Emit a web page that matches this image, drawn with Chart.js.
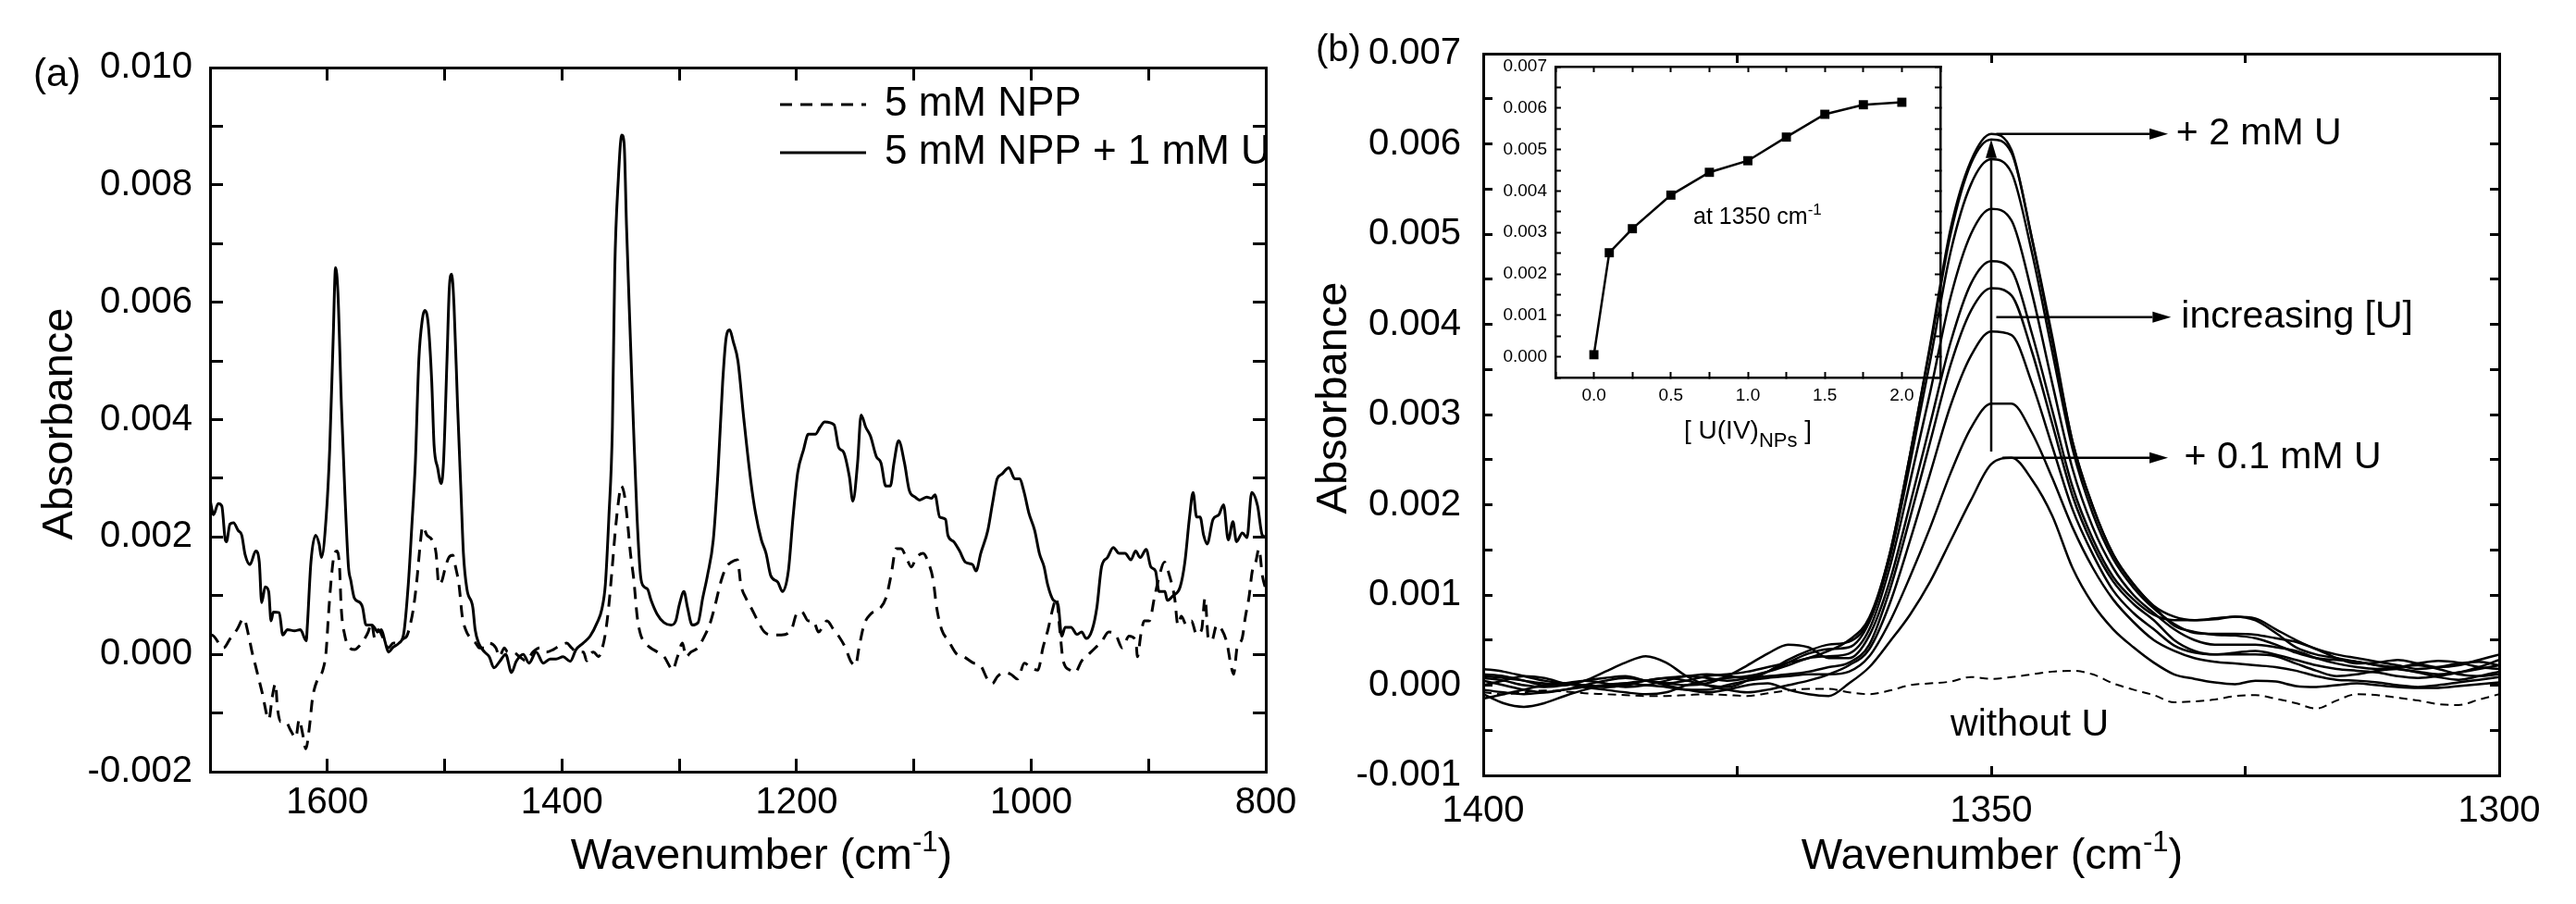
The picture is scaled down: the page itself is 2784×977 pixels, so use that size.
<!DOCTYPE html>
<html><head><meta charset="utf-8">
<script src="https://cdn.jsdelivr.net/npm/chart.js@4.4.1/dist/chart.umd.min.js"></script>
<style>
html,body{margin:0;padding:0;background:#fff;}
body{width:2784px;height:977px;position:relative;overflow:hidden;}
canvas{position:absolute;}
#ca{left:0;top:0;width:1440px;height:977px;}
#cb{left:1400px;top:0;width:1384px;height:977px;}
#ci{left:1610px;top:40px;width:520px;height:460px;}
</style></head><body>
<canvas id="ca" width="1440" height="977"></canvas>
<canvas id="cb" width="1384" height="977"></canvas>
<canvas id="ci" width="520" height="460"></canvas>
<script>
// ================= DATA: panel (a) =================
const seriesA = ['5 mM NPP', '5 mM NPP + 1 mM U'];
const wnNPP = [
1700,1698.6,1688.5,1682.8,1677.1,1671.3,1667,1664.2,1661.3,1658.4,
1655.6,1649.8,1647,1644.1,1642.7,1639.8,1635.5,1631.2,1626.9,1624,
1621.2,1618.3,1615.4,1612.5,1608.2,1603.9,1601.1,1599.1,1596.8,1593.9,
1591.6,1589.6,1588.2,1585.3,1581,1576.7,1572.4,1568.1,1565.2,1562.4,
1559.5,1556.6,1552.3,1548,1543.7,1539.4,1535.1,1532.3,1529.4,1526.5,
1523.7,1520.8,1518.8,1515.1,1510.8,1507.3,1505,1502.2,1499.3,1496.4,
1493,1490.7,1487.8,1485,1482.1,1477.8,1473.5,1470.6,1466.3,1462,
1456.3,1453.4,1449.1,1446.3,1441.9,1436.2,1430.5,1424.7,1419,1413.3,
1407.5,1401.8,1396.1,1391.8,1387.5,1381.7,1378.9,1376,1373.1,1368.8,
1366,1363.1,1360.2,1357.4,1354.5,1351.6,1349.6,1346.8,1344.5,1341.6,
1338.7,1335.9,1333,1328.7,1324.4,1318.7,1312.9,1308.6,1305.8,1301.5,
1297.2,1294.3,1290,1284.3,1278.5,1274.2,1269.9,1264.2,1259.9,1255.6,
1250.4,1247.5,1243.2,1238.9,1233.1,1227.4,1221.6,1213,1204.4,1200,
1195.7,1190,1185.7,1181.3,1174.1,1168.4,1164.1,1158.3,1154,1149.7,
1146.8,1142.5,1136.7,1129.5,1123.8,1119.5,1115.1,1110.8,1106.5,1102.2,
1097.9,1092.1,1087.8,1083.5,1080.6,1076.3,1070.5,1063.3,1057.6,1049,
1043.2,1037.4,1033.1,1028.8,1023.1,1017.3,1011.6,1005.8,1000.1,994.3,
990,985.7,981.3,978.5,975.6,972.7,967,962.6,956.9,951.1,
945.4,939.6,933.9,928.1,922.3,916.6,910.8,909.4,906.5,903.6,
899.3,895,890.7,886.4,882.1,877.7,874.9,872,867.7,863.4,
859,854.7,851.8,849,846.1,841.8,837.5,833.1,829.7,827.4,
824.5,820.2,817.3,814.4,811.5,808.6,805.8,802.9,800];
const absNPP = [
0.00031,0.00033,0.00011,0.00027,0.00042,0.00061,0.00031,0.00004,-0.00019,-0.00042,
-0.00065,-0.00111,-0.00073,-0.00050,-0.00088,-0.00115,-0.00115,-0.00130,-0.00142,-0.00111,
-0.00134,-0.00161,-0.00126,-0.00073,-0.00042,-0.00027,0.00004,0.00065,0.00126,0.00172,
0.00176,0.00149,0.00080,0.00034,0.00011,0.00008,0.00015,0.00027,0.00038,0.00054,
0.00027,0.00042,0.00027,0.00011,0.00019,0.00019,0.00027,0.00031,0.00050,0.00080,
0.00126,0.00188,0.00218,0.00203,0.00195,0.00172,0.00119,0.00126,0.00149,0.00165,
0.00169,0.00149,0.00119,0.00065,0.00042,0.00027,0.00019,0.00011,0.00011,0.00019,
0.00011,-0.00004,0.00011,0.00004,0.00004,-0.00004,-0.00011,0.00004,0.00011,0.00004,
0.00008,0.00015,0.00019,0.00011,0.00004,0.00004,-0.00011,0.00000,0.00004,-0.00004,
0.00008,0.00034,0.00080,0.00142,0.00211,0.00264,0.00287,0.00272,0.00234,0.00172,
0.00126,0.00065,0.00034,0.00019,0.00011,0.00004,-0.00004,-0.00019,-0.00027,-0.00004,
0.00019,-0.00004,0.00004,0.00011,0.00031,0.00050,0.00080,0.00126,0.00149,0.00157,
0.00161,0.00119,0.00096,0.00080,0.00057,0.00038,0.00033,0.00033,0.00042,0.00069,
0.00073,0.00057,0.00057,0.00038,0.00057,0.00042,0.00031,0.00011,-0.00011,-0.00019,
0.00011,0.00050,0.00069,0.00077,0.00096,0.00134,0.00180,0.00180,0.00165,0.00149,
0.00165,0.00172,0.00157,0.00126,0.00080,0.00042,0.00023,0.00000,-0.00004,-0.00015,
-0.00019,-0.00042,-0.00050,-0.00038,-0.00031,-0.00034,-0.00042,-0.00015,-0.00023,-0.00027,
0.00011,0.00042,0.00080,0.00096,0.00042,-0.00011,-0.00027,-0.00031,-0.00011,0.00000,
0.00011,0.00023,0.00038,0.00034,0.00011,0.00031,0.00023,-0.00004,0.00034,0.00057,
0.00057,0.00096,0.00134,0.00157,0.00134,0.00096,0.00050,0.00065,0.00050,0.00057,
0.00034,0.00042,0.00096,0.00027,0.00023,0.00050,0.00042,0.00019,-0.00019,-0.00034,
0.00011,0.00027,0.00065,0.00096,0.00142,0.00157,0.00180,0.00134,0.00111];
const wnNPPU = [
1700,1697,1693,1690,1687,1686,1683,1680,1676,1673,
1670,1666,1661,1658,1656,1653,1650,1648,1646,1641,
1638,1634,1628,1623,1618,1617,1614,1610,1607,1605,
1601,1598,1595,1593,1591,1588,1585,1582,1580,1577,
1572,1570,1567,1562,1560,1557,1554,1551,1548,1544,
1539,1535,1531,1528,1525,1522,1519,1517,1514,1511,
1509,1506,1503,1501,1498,1496,1494,1492,1489,1486,
1484,1481,1476,1474,1471,1466,1462,1458,1453,1448,
1443,1439,1433,1428,1422,1416,1410,1405,1399,1393,
1388,1382,1376,1370,1366,1363,1360,1357,1355,1352,
1349,1347,1345,1342,1339,1336,1333,1330,1327,1324,
1319,1313,1307,1303,1300,1296,1293,1289,1284,1280,
1276,1271,1267,1263,1260,1257,1254,1250,1245,1239,
1235,1230,1226,1222,1216,1212,1207,1203,1199,1194,
1190,1184,1180,1176,1168,1164,1160,1155,1152,1148,
1145,1141,1137,1132,1128,1124,1120,1117,1113,1108,
1104,1099,1095,1089,1085,1082,1078,1073,1071,1066,
1061,1056,1050,1047,1043,1037,1033,1029,1025,1019,
1014,1010,1006,1002,997,993,989,986,981,977,
974,971,966,961,957,953,948,944,940,935,
930,925,920,915,911,907,902,898,894,891,
886,884,879,873,869,865,862,859,856,853,
850,845,840,836,832,828,825,820,816,812,
807,803,800];
const absNPPU = [
0.00264,0.00238,0.00257,0.00253,0.00195,0.00192,0.00222,0.00224,0.00211,0.00203,
0.00169,0.00153,0.00176,0.00157,0.00088,0.00115,0.00107,0.00057,0.00072,0.00071,
0.00033,0.00042,0.00040,0.00042,0.00023,0.00050,0.00157,0.00203,0.00188,0.00165,
0.00234,0.00349,0.00540,0.00659,0.00617,0.00425,0.00272,0.00149,0.00126,0.00096,
0.00088,0.00080,0.00050,0.00050,0.00046,0.00038,0.00042,0.00023,0.00004,0.00012,
0.00019,0.00034,0.00119,0.00218,0.00326,0.00502,0.00571,0.00586,0.00563,0.00464,
0.00356,0.00318,0.00291,0.00326,0.00502,0.00625,0.00648,0.00594,0.00425,0.00272,
0.00172,0.00111,0.00080,0.00042,0.00019,0.00004,-0.00004,-0.00023,-0.00012,0.00000,
-0.00031,-0.00012,0.00000,-0.00015,0.00004,-0.00015,-0.00008,-0.00008,-0.00004,-0.00012,
0.00008,0.00019,0.00031,0.00054,0.00077,0.00119,0.00234,0.00387,0.00655,0.00808,
0.00885,0.00870,0.00732,0.00556,0.00387,0.00234,0.00134,0.00115,0.00111,0.00092,
0.00069,0.00054,0.00050,0.00057,0.00084,0.00107,0.00080,0.00050,0.00054,0.00096,
0.00134,0.00195,0.00310,0.00464,0.00540,0.00553,0.00533,0.00500,0.00402,0.00295,
0.00241,0.00195,0.00172,0.00134,0.00123,0.00107,0.00142,0.00234,0.00310,0.00349,
0.00375,0.00375,0.00387,0.00396,0.00391,0.00352,0.00345,0.00303,0.00261,0.00326,
0.00408,0.00387,0.00372,0.00337,0.00326,0.00287,0.00287,0.00326,0.00364,0.00326,
0.00280,0.00268,0.00263,0.00268,0.00266,0.00272,0.00234,0.00230,0.00203,0.00192,
0.00176,0.00157,0.00153,0.00142,0.00172,0.00211,0.00257,0.00299,0.00307,0.00318,
0.00299,0.00299,0.00276,0.00241,0.00211,0.00172,0.00149,0.00119,0.00092,0.00084,
0.00031,0.00046,0.00046,0.00034,0.00038,0.00027,0.00042,0.00080,0.00149,0.00165,
0.00182,0.00172,0.00172,0.00161,0.00176,0.00165,0.00179,0.00149,0.00142,0.00107,
0.00107,0.00092,0.00100,0.00115,0.00157,0.00234,0.00276,0.00234,0.00234,0.00203,
0.00188,0.00230,0.00238,0.00255,0.00195,0.00226,0.00192,0.00207,0.00199,0.00276,
0.00253,0.00203,0.00200];

// ================= DATA: panel (b) =================
const wnB = [1400,1398,1396,1394,1392,1390,1388,1386,1384,1382,1380,1378,1376,1374,1372,1370,1368,1366,
1364,1362,1360,1358,1356,1354,1352,1350,1348,1346,1344,1342,1340,1338,1336,
1334,1332,1330,1328,1326,1324,1322,1320,1318,1316,1314,1312,1310,1308,1306,1304,1302,1300];
const absWithoutU = [-0.00008,-0.00010,-0.00008,-0.00006,-0.00007,-0.00009,-0.00010,-0.00011,-0.00012,-0.00012,-0.00011,-0.00010,-0.00011,-0.00012,-0.00009,-0.00006,-0.00004,-0.00004,
-0.00008,-0.00010,-0.00006,0.00000,0.00002,0.00004,0.00009,0.00007,0.00009,0.00012,0.00015,0.00016,0.00012,0.00002,-0.00005,
-0.00011,-0.00019,-0.00018,-0.00016,-0.00012,-0.00011,-0.00015,-0.00020,-0.00026,-0.00017,-0.00010,-0.00011,-0.00014,-0.00017,-0.00021,-0.00022,-0.00016,-0.00010];
const absU010 = [0.00005,0.00000,-0.00005,-0.00008,-0.00005,0.00000,0.00005,0.00008,0.00005,0.00000,-0.00005,-0.00008,-0.00005,0.00000,0.00002,-0.00005,-0.00010,-0.00012,
0.00002,0.00020,0.00048,0.00078,0.00115,0.00160,0.00205,0.00245,0.00252,0.00228,0.00188,0.00130,0.00090,0.00062,0.00042,
0.00025,0.00012,0.00007,0.00003,0.00001,0.00005,0.00004,-0.00001,-0.00002,0.00000,0.00002,0.00000,-0.00002,-0.00003,-0.00003,-0.00001,0.00001,0.00003];
const absU025 = [-0.00010,-0.00020,-0.00024,-0.00020,-0.00012,-0.00005,0.00000,0.00002,0.00000,-0.00002,-0.00005,-0.00005,0.00000,0.00005,0.00008,0.00010,0.00012,0.00012,
0.00015,0.00032,0.00070,0.00120,0.00175,0.00235,0.00285,0.00312,0.00312,0.00280,0.00230,0.00175,0.00130,0.00095,0.00070,
0.00050,0.00038,0.00030,0.00026,0.00024,0.00022,0.00020,0.00016,0.00010,0.00006,0.00005,0.00003,0.00000,-0.00002,0.00000,0.00003,0.00006,0.00009];
const absU050 = [0.00010,0.00008,0.00005,0.00002,0.00000,0.00005,0.00015,0.00025,0.00032,0.00025,0.00010,0.00000,-0.00005,-0.00008,-0.00005,0.00000,0.00005,0.00012,
0.00022,0.00040,0.00090,0.00160,0.00235,0.00310,0.00365,0.00392,0.00388,0.00335,0.00265,0.00195,0.00145,0.00105,0.00080,
0.00062,0.00044,0.00036,0.00034,0.00036,0.00038,0.00034,0.00028,0.00022,0.00018,0.00016,0.00014,0.00010,0.00008,0.00010,0.00014,0.00018,0.00022];
const absU075 = [0.00018,0.00015,0.00010,0.00005,0.00002,0.00000,-0.00002,0.00000,0.00005,0.00008,0.00010,0.00012,0.00010,0.00008,0.00010,0.00012,0.00015,0.00020,
0.00025,0.00045,0.00105,0.00185,0.00270,0.00355,0.00415,0.00440,0.00432,0.00370,0.00290,0.00210,0.00155,0.00115,0.00090,
0.00072,0.00050,0.00038,0.00034,0.00034,0.00034,0.00032,0.00024,0.00016,0.00010,0.00012,0.00016,0.00018,0.00014,0.00009,0.00006,0.00010,0.00015];
const absU100 = [-0.00005,-0.00008,-0.00010,-0.00008,-0.00005,-0.00002,0.00000,0.00002,0.00005,0.00002,0.00000,0.00002,0.00010,0.00022,0.00035,0.00045,0.00042,0.00030,
0.00030,0.00055,0.00115,0.00200,0.00290,0.00380,0.00445,0.00470,0.00460,0.00390,0.00305,0.00220,0.00162,0.00120,0.00095,
0.00078,0.00072,0.00072,0.00074,0.00076,0.00072,0.00058,0.00042,0.00034,0.00030,0.00026,0.00022,0.00018,0.00015,0.00012,0.00014,0.00020,0.00028];
const absU125 = [0.00000,0.00005,0.00010,0.00008,0.00002,-0.00002,-0.00005,-0.00008,-0.00010,-0.00008,0.00000,0.00005,0.00008,0.00010,0.00015,0.00022,0.00030,0.00032,
0.00035,0.00062,0.00130,0.00225,0.00325,0.00430,0.00500,0.00528,0.00515,0.00435,0.00335,0.00240,0.00175,0.00130,0.00100,
0.00080,0.00062,0.00050,0.00045,0.00045,0.00045,0.00042,0.00038,0.00030,0.00024,0.00020,0.00018,0.00020,0.00022,0.00018,0.00012,0.00010,0.00012];
const absU150 = [0.00012,0.00010,0.00005,0.00000,0.00002,0.00005,0.00002,-0.00002,0.00000,0.00005,0.00010,0.00008,0.00005,0.00008,0.00015,0.00025,0.00035,0.00040,
0.00042,0.00070,0.00140,0.00245,0.00360,0.00480,0.00555,0.00583,0.00568,0.00480,0.00370,0.00262,0.00190,0.00140,0.00108,
0.00085,0.00068,0.00058,0.00057,0.00057,0.00056,0.00052,0.00048,0.00040,0.00030,0.00024,0.00025,0.00028,0.00024,0.00020,0.00022,0.00028,0.00034];
const absU175 = [-0.00015,-0.00010,-0.00005,0.00000,0.00002,0.00000,-0.00002,0.00000,0.00005,0.00008,0.00005,0.00000,-0.00002,0.00005,0.00015,0.00028,0.00038,0.00045,
0.00048,0.00072,0.00145,0.00255,0.00375,0.00500,0.00578,0.00605,0.00590,0.00495,0.00382,0.00270,0.00198,0.00145,0.00112,
0.00088,0.00076,0.00072,0.00073,0.00076,0.00074,0.00062,0.00050,0.00040,0.00034,0.00030,0.00026,0.00022,0.00018,0.00020,0.00024,0.00026,0.00022];
const absU200 = [0.00008,0.00005,0.00000,-0.00002,0.00000,0.00005,0.00008,0.00010,0.00005,0.00002,0.00005,0.00010,0.00012,0.00015,0.00020,0.00025,0.00030,0.00038,
0.00050,0.00075,0.00145,0.00255,0.00378,0.00506,0.00581,0.00611,0.00593,0.00496,0.00387,0.00270,0.00198,0.00145,0.00112,
0.00087,0.00066,0.00059,0.00056,0.00055,0.00052,0.00045,0.00036,0.00030,0.00028,0.00026,0.00022,0.00020,0.00024,0.00027,0.00025,0.00020,0.00018];
const seriesB = ['+ 0.1 mM U','+ 0.25 mM U','+ 0.5 mM U','+ 0.75 mM U','+ 1 mM U','+ 1.25 mM U','+ 1.5 mM U','+ 1.75 mM U','+ 2 mM U'];
const seriesBValues = [absU010, absU025, absU050, absU075, absU100, absU125, absU150, absU175, absU200];

// inset
const insetConc = [0, 0.1, 0.25, 0.5, 0.75, 1.0, 1.25, 1.5, 1.75, 2.0];
const insetAbs = [0.00005, 0.00251, 0.00309, 0.00390, 0.00445, 0.00473, 0.00530, 0.00585, 0.00608, 0.00614];

// texts
const annTexts = { top: '+ 2 mM U', mid: 'increasing [U]', low: '+ 0.1 mM U', none: 'without U' };

// ================= helpers =================
const FONT = "'Liberation Sans', Arial, Helvetica, sans-serif";
Chart.defaults.font.family = FONT;
Chart.defaults.color = '#000';

function axis(o) {
  return {
    type: 'linear', position: o.pos, min: o.min, max: o.max, reverse: !!o.reverse,
    ticks: { display: !!o.fmt, stepSize: o.step, maxTicksLimit: 1000, autoSkip: false,
      maxRotation: 0, minRotation: 0, padding: o.pad || 0, color: '#000',
      font: { family: FONT, size: o.fs || 40 }, callback: o.fmt || (() => '') },
    grid: { display: true, drawOnChartArea: false, drawTicks: true, tickLength: -o.tl, tickWidth: o.tw, tickColor: '#000', lineWidth: 1 },
    border: { display: true, width: o.bw, color: '#000' },
    afterFit: (s) => { if (s.isHorizontal()) s.height = o.size; else s.width = o.size; }
  };
}
function rich(ctx, parts, x, y, align) {
  let w = 0;
  parts.forEach(p => { ctx.font = p.size + 'px ' + FONT; p.w = ctx.measureText(p.t).width; w += p.w; });
  let cx = align === 'center' ? x - w / 2 : (align === 'right' ? x - w : x);
  ctx.textAlign = 'left'; ctx.textBaseline = 'alphabetic'; ctx.fillStyle = '#000';
  parts.forEach(p => { ctx.font = p.size + 'px ' + FONT; ctx.fillText(p.t, cx, y + (p.dy || 0)); cx += p.w; });
}
function arrow(ctx, x1, y1, x2, y2, head, hw) {
  const a = Math.atan2(y2 - y1, x2 - x1);
  const bx = x2 - head * Math.cos(a), by = y2 - head * Math.sin(a);
  ctx.beginPath(); ctx.moveTo(x1, y1); ctx.lineTo(bx, by); ctx.stroke();
  ctx.beginPath(); ctx.moveTo(x2, y2);
  ctx.lineTo(bx + hw * Math.sin(a), by - hw * Math.cos(a));
  ctx.lineTo(bx - hw * Math.sin(a), by + hw * Math.cos(a));
  ctx.closePath(); ctx.fill();
}
function vTitle(ctx, text, x, y, size) {
  ctx.save(); ctx.translate(x, y); ctx.rotate(-Math.PI / 2);
  ctx.font = size + 'px ' + FONT; ctx.fillStyle = '#000';
  ctx.textAlign = 'center'; ctx.textBaseline = 'middle';
  ctx.fillText(text, 0, 0); ctx.restore();
}
const fmt3 = (div) => (v) => (Math.round(v * div) % 2 === 0 ? v.toFixed(3) : '');
const baseOpts = { responsive: false, animation: false, devicePixelRatio: 1, events: [],
  plugins: { legend: { display: false }, tooltip: { enabled: false } } };

// ================= chart (a) =================
new Chart(document.getElementById('ca'), {
  type: 'line',
  data: { datasets: [
    { label: seriesA[0], data: wnNPP.map((x, i) => ({ x, y: absNPP[i] })), borderColor: '#000', borderWidth: 3,
      borderDash: [13, 9], pointRadius: 0, fill: false, cubicInterpolationMode: 'monotone' },
    { label: seriesA[1], data: wnNPPU.map((x, i) => ({ x, y: absNPPU[i] })), borderColor: '#000', borderWidth: 3,
      pointRadius: 0, fill: false, cubicInterpolationMode: 'monotone' }
  ]},
  options: Object.assign({}, baseOpts, {
    layout: { padding: { top: 73, left: 0, right: 72, bottom: 33 } },
    scales: {
      x: axis({ pos: 'bottom', min: 800, max: 1700, reverse: true, step: 100, pad: 24, tl: 14, tw: 3, bw: 3, size: 110,
        fmt: (v) => (Math.round(v) % 200 === 0 ? String(Math.round(v)) : '') }),
      x2: axis({ pos: 'top', min: 800, max: 1700, reverse: true, step: 100, tl: 14, tw: 3, bw: 3, size: 0 }),
      y: axis({ pos: 'left', min: -0.002, max: 0.010, step: 0.001, pad: 33, tl: 14, tw: 3, bw: 3, size: 227, fmt: fmt3(1000) }),
      y2: axis({ pos: 'right', min: -0.002, max: 0.010, step: 0.001, tl: 14, tw: 3, bw: 3, size: 0 })
    }
  }),
  plugins: [{ id: 'decoA', afterDraw(chart) {
    const ctx = chart.ctx; ctx.save();
    ctx.fillStyle = '#000'; ctx.font = '42px ' + FONT; ctx.textAlign = 'left'; ctx.textBaseline = 'middle';
    ctx.fillText('(a)', 36, 81);
    // legend
    const rows = [113, 165];
    chart.data.datasets.forEach((ds, i) => {
      ctx.strokeStyle = '#000'; ctx.lineWidth = ds.borderWidth; ctx.setLineDash(ds.borderDash || []);
      ctx.beginPath(); ctx.moveTo(843, rows[i]); ctx.lineTo(936, rows[i]); ctx.stroke();
      ctx.setLineDash([]);
      ctx.font = '44px ' + FONT; ctx.textAlign = 'left'; ctx.textBaseline = 'middle';
      ctx.fillText(ds.label, 956, rows[i]);
    });
    rich(ctx, [{ t: 'Wavenumber (cm', size: 47 }, { t: '-1', size: 31, dy: -19 }, { t: ')', size: 47 }], 823, 939, 'center');
    vTitle(ctx, 'Absorbance', 65, 458, 47);
    ctx.restore();
  }}]
});

// ================= chart (b) =================
const dsB = seriesBValues.map((arr, k) => ({ label: seriesB[k], data: wnB.map((x, i) => ({ x, y: arr[i] })),
  borderColor: '#000', borderWidth: 2.5, pointRadius: 0, fill: false, cubicInterpolationMode: 'monotone' }));
dsB.push({ label: 'without U', data: wnB.map((x, i) => ({ x, y: absWithoutU[i] })), borderColor: '#000', borderWidth: 2,
  borderDash: [9, 6], pointRadius: 0, fill: false, cubicInterpolationMode: 'monotone' });

new Chart(document.getElementById('cb'), {
  type: 'line',
  data: { datasets: dsB },
  options: Object.assign({}, baseOpts, {
    layout: { padding: { top: 54, left: 0, right: 83, bottom: 39 } },
    scales: {
      x: axis({ pos: 'bottom', min: 1300, max: 1400, reverse: true, step: 25, pad: 25, tl: 10, tw: 3, bw: 3, size: 100,
        fmt: (v) => (Math.round(v) % 50 === 0 ? String(Math.round(v)) : '') }),
      x2: axis({ pos: 'top', min: 1300, max: 1400, reverse: true, step: 25, tl: 10, tw: 3, bw: 3, size: 0 }),
      y: axis({ pos: 'left', min: -0.001, max: 0.007, step: 0.0005, pad: 34, tl: 10, tw: 3, bw: 3, size: 203, fmt: fmt3(2000) }),
      y2: axis({ pos: 'right', min: -0.001, max: 0.007, step: 0.0005, tl: 10, tw: 3, bw: 3, size: 0 })
    }
  }),
  plugins: [{ id: 'decoB', afterDraw(chart) {
    const ctx = chart.ctx, sx = chart.scales.x, sy = chart.scales.y;
    const px = (v) => sx.getPixelForValue(v), py = (v) => sy.getPixelForValue(v);
    ctx.save();
    ctx.fillStyle = '#000'; ctx.strokeStyle = '#000'; ctx.lineWidth = 2.5;
    ctx.font = '40px ' + FONT; ctx.textAlign = 'left'; ctx.textBaseline = 'middle';
    ctx.fillText('(b)', 22, 55);
    arrow(ctx, px(1350), py(0.00259), px(1350), py(0.00605), 20, 6);
    arrow(ctx, px(1349.5), py(0.00611), px(1332.6), py(0.00611), 20, 6);
    arrow(ctx, px(1349.5), py(0.00408), px(1332.3), py(0.00408), 20, 6);
    arrow(ctx, px(1348.9), py(0.00252), px(1332.6), py(0.00252), 20, 6);
    ctx.font = '41px ' + FONT; ctx.textAlign = 'left'; ctx.textBaseline = 'middle';
    ctx.fillText(annTexts.top, px(1331.8), py(0.00611));
    ctx.fillText(annTexts.mid, px(1331.3), py(0.00408));
    ctx.fillText(annTexts.low, px(1331.0), py(0.00252));
    ctx.fillText(annTexts.none, px(1354.0), py(-0.00044));
    rich(ctx, [{ t: 'Wavenumber (cm', size: 47 }, { t: '-1', size: 31, dy: -19 }, { t: ')', size: 47 }], 753, 939, 'center');
    vTitle(ctx, 'Absorbance', 42, 430, 47);
    ctx.restore();
  }}]
});

// ================= inset =================
new Chart(document.getElementById('ci'), {
  type: 'line',
  data: { datasets: [{ label: 'at 1350', data: insetConc.map((x, i) => ({ x, y: insetAbs[i] })),
    borderColor: '#000', borderWidth: 2.5, pointStyle: 'rect', pointRadius: 7, pointBackgroundColor: '#000',
    pointBorderColor: '#000', pointBorderWidth: 0, tension: 0, fill: false }] },
  options: Object.assign({}, baseOpts, {
    layout: { padding: { top: 32, left: 0, right: 33, bottom: 42 } },
    scales: {
      x: axis({ pos: 'bottom', min: -0.25, max: 2.25, step: 0.25, pad: 14, tl: 6, tw: 2, bw: 2.5, size: 50, fs: 19,
        fmt: (v) => (Math.round(v * 4) % 2 === 0 ? v.toFixed(1) : '') }),
      x2: axis({ pos: 'top', min: -0.25, max: 2.25, step: 0.25, tl: 6, tw: 2, bw: 2.5, size: 0 }),
      y: axis({ pos: 'left', min: -0.0005, max: 0.007, step: 0.0005, pad: 15, tl: 6, tw: 2, bw: 2.5, size: 71, fs: 19, fmt: fmt3(2000) }),
      y2: axis({ pos: 'right', min: -0.0005, max: 0.007, step: 0.0005, tl: 6, tw: 2, bw: 2.5, size: 0 })
    }
  }),
  plugins: [{ id: 'decoI', afterDraw(chart) {
    const ctx = chart.ctx; ctx.save();
    rich(ctx, [{ t: 'at 1350 cm', size: 25 }, { t: '-1', size: 17, dy: -10 }], 220, 202, 'left');
    rich(ctx, [{ t: '[ U(IV)', size: 28 }, { t: 'NPs', size: 22, dy: 9 }, { t: ' ]', size: 28 }], 279, 434, 'center');
    ctx.restore();
  }}]
});
</script></body></html>
